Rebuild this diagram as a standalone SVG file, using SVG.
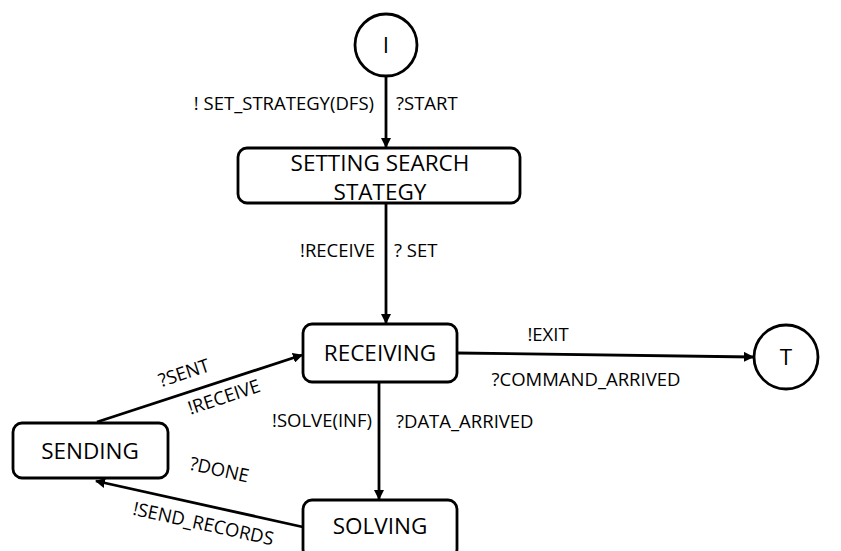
<svg xmlns="http://www.w3.org/2000/svg" width="841" height="551" viewBox="0 0 841 551">
<defs>
<marker id="ah" viewBox="0 0 10 10" refX="9" refY="5" markerWidth="3.6" markerHeight="3.6" orient="auto" markerUnits="strokeWidth">
<path d="M0,0 L10,5 L0,10 z" fill="#000"/>
</marker>
<style>
.node{fill:#fff;stroke:#000;stroke-width:2.8}
.nt{font-family:"Open Sans","Liberation Sans",sans-serif;font-size:22.5px;fill:#000;text-anchor:middle}
.lb{font-family:"Open Sans","Liberation Sans",sans-serif;font-size:18.5px;fill:#000}
.e{text-anchor:end}
.m{text-anchor:middle}
.edge{fill:none;stroke:#000;stroke-width:2.8;marker-end:url(#ah)}
</style>
</defs>
<rect width="841" height="551" fill="#fff"/>
<g id="connectors">
<line class="edge" x1="386" y1="77" x2="386" y2="147"/>
<line class="edge" x1="386" y1="203" x2="386" y2="323"/>
<line class="edge" x1="457" y1="353" x2="753" y2="357"/>
<line class="edge" x1="379" y1="382" x2="379" y2="499"/>
<line class="edge" x1="97" y1="422" x2="302" y2="355"/>
<line class="edge" x1="303" y1="527" x2="96" y2="481"/>
<text class="lb e" x="374" y="110">! SET_STRATEGY(DFS)</text>
<text class="lb" x="396" y="110">?START</text>
<text class="lb e" x="375" y="257">!RECEIVE</text>
<text class="lb" x="394" y="257">? SET</text>
<text class="lb m" x="548" y="341">!EXIT</text>
<text class="lb m" x="586" y="386">?COMMAND_ARRIVED</text>
<text class="lb e" x="372" y="427">!SOLVE(INF)</text>
<text class="lb" x="396" y="428">?DATA_ARRIVED</text>
<text class="lb m" transform="translate(186,379) rotate(-18.3)">?SENT</text>
<text class="lb m" transform="translate(226,403) rotate(-18.3)">!RECEIVE</text>
<text class="lb m" transform="translate(218,476) rotate(12.4)">?DONE</text>
<text class="lb m" transform="translate(202,530) rotate(12.4)">!SEND_RECORDS</text>
</g>
<g id="node-I">
<circle class="node" cx="386" cy="45" r="31"/>
<text class="nt" x="386" y="53">I</text>
</g>
<g id="node-setting">
<rect class="node" x="238" y="148" width="282" height="55" rx="9"/>
<text class="nt" x="380" y="171">SETTING SEARCH</text>
<text class="nt" x="380" y="200">STATEGY</text>
</g>
<g id="node-receiving">
<rect class="node" x="303" y="324" width="154" height="58" rx="9"/>
<text class="nt" x="380" y="361">RECEIVING</text>
</g>
<g id="node-T">
<circle class="node" cx="786" cy="357" r="32"/>
<text class="nt" x="786" y="365">T</text>
</g>
<g id="node-sending">
<rect class="node" x="13" y="423" width="155" height="55" rx="9"/>
<text class="nt" x="90" y="459">SENDING</text>
</g>
<g id="node-solving">
<rect class="node" x="303" y="500" width="154" height="58" rx="9"/>
<text class="nt" x="380" y="534">SOLVING</text>
</g>
</svg>
